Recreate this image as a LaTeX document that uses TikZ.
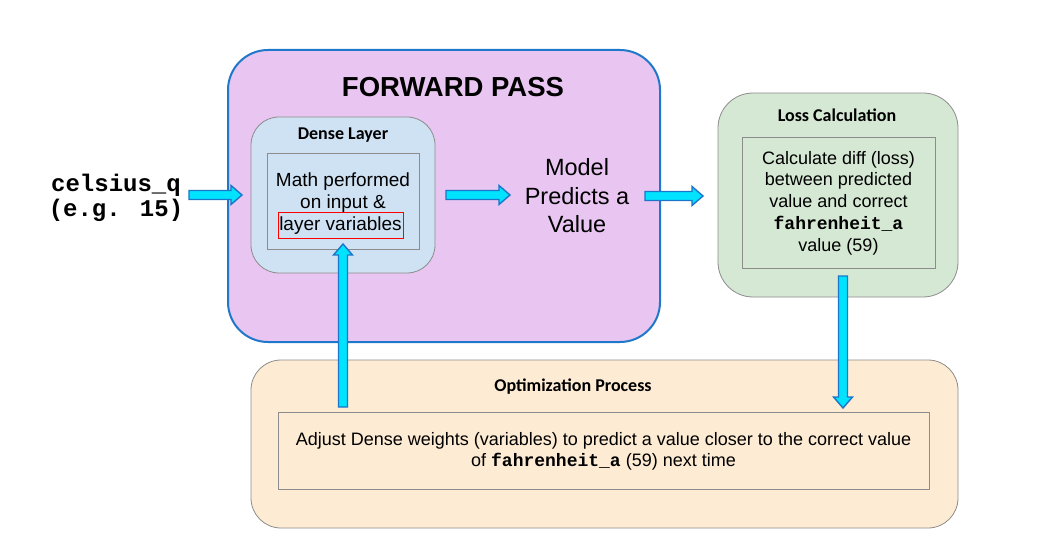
\documentclass[tikz,border=0pt]{standalone}
\usepackage{fontspec}
\setmainfont{Liberation Sans}
\newfontfamily\titlefont{Carlito}
\newfontfamily\codefont{Liberation Mono}
\usetikzlibrary{calc}
\definecolor{fpfill}{HTML}{E9C5F1}
\definecolor{fpline}{HTML}{1F78C9}
\definecolor{densefill}{HTML}{CFE2F3}
\definecolor{lossfill}{HTML}{D5E8D4}
\definecolor{optfill}{HTML}{FDEBD3}
\definecolor{boxline}{HTML}{8C8C8C}
\definecolor{arrfill}{HTML}{00E3FF}
\definecolor{arrline}{HTML}{1B75C9}
\newcommand\code[1]{{\codefont\bfseries #1}}
\newcommand\blockarrow[2]{%
  \coordinate (bah) at ($(#2)!11pt!(#1)$);
  \draw[barrow] ($(#1)!4.5pt!90:(#2)$) -- ($(bah)!4.5pt!90:(#2)$) -- ($(bah)!9.5pt!90:(#2)$) -- (#2)
    -- ($(bah)!9.5pt!-90:(#2)$) -- ($(bah)!4.5pt!-90:(#2)$) -- ($(#1)!4.5pt!-90:(#2)$) -- cycle;}
\tikzset{
  lbox/.style={draw=boxline, line width=0.8pt, inner sep=0pt},
  inbox/.style={draw=boxline, line width=0.8pt, inner sep=0pt},
  subtitle/.style={font=\titlefont\bfseries\fontsize{18}{20}\selectfont, inner sep=0pt},
  txt/.style={font=\fontsize{18}{21.7}\selectfont, align=center, inner sep=0pt},
  barrow/.style={draw=arrline, fill=arrfill, line width=1.4pt, line join=miter},
}
\begin{document}
\begin{tikzpicture}[x=1pt,y=-1pt]
\useasboundingbox (0,0) rectangle (1047,548);
% forward pass
\node[draw=fpline, fill=fpfill, line width=2pt, rounded corners=40pt, minimum width=432pt, minimum height=292pt, inner sep=0pt] (fp) at (444,196) {};
\node[font=\bfseries\fontsize{27.5}{30}\selectfont, inner sep=0pt] (fptitle) at (453,87) {FORWARD PASS};
% dense layer
\node[lbox, fill=densefill, rounded corners=28pt, minimum width=184pt, minimum height=156pt] (dense) at (343,195) {};
\node[subtitle] (densettl) at (343,135) {Dense Layer};
\node[inbox, minimum width=152pt, minimum height=96pt] (densein) at (343,201) {};
\node[txt, font=\fontsize{19}{22.5}\selectfont] (math) at (343,192.5) {Math performed\\on input \&};
\node[draw=red, line width=1pt, minimum width=125pt, minimum height=26pt, inner sep=0pt, font=\fontsize{19}{22}\selectfont] (layervars) at (340.5,226) {layer variables};
% model
\node[txt, font=\fontsize{23.5}{28.5}\selectfont] (model) at (577,196) {Model\\Predicts a\\Value};
% loss
\node[lbox, fill=lossfill, rounded corners=35pt, minimum width=240pt, minimum height=204pt] (loss) at (838,195) {};
\node[subtitle] (lossttl) at (837,115) {Loss Calculation};
\node[inbox, minimum width=193pt, minimum height=131pt] (lossin) at (838.5,202.5) {};
\node[txt] (losstxt) at (838.5,203) {Calculate diff (loss)\\between predicted\\value and correct\\\code{fahrenheit\_a}\\value (59)};
% optimization
\node[lbox, fill=optfill, rounded corners=30pt, minimum width=707pt, minimum height=168pt] (opt) at (604.5,444) {};
\node[subtitle] (optttl) at (573,387) {Optimization Process};
\node[inbox, minimum width=651pt, minimum height=77pt] (optin) at (603.5,450.5) {};
\node[txt, font=\fontsize{18}{21}\selectfont] (opttxt) at (603.5,451) {Adjust Dense weights (variables) to predict a value closer to the correct value\\of \code{fahrenheit\_a} (59) next time};
% input
\node[txt, font=\codefont\bfseries\fontsize{24}{25}\selectfont] (cel) at (116,197.5) {celsius\_q\\(e.g. 15)};
% arrows
\coordinate (a1t) at (189,195); \coordinate (a1h) at (242,195);
\coordinate (a2t) at (446,195); \coordinate (a2h) at (510,195);
\coordinate (a3t) at (645,196); \coordinate (a3h) at (703,196);
\coordinate (a4t) at (843,276); \coordinate (a4h) at (843,408);
\coordinate (a5t) at (343,407); \coordinate (a5h) at (343,244);
\blockarrow{a1t}{a1h}
\blockarrow{a2t}{a2h}
\blockarrow{a3t}{a3h}
\blockarrow{a4t}{a4h}
\blockarrow{a5t}{a5h}
\end{tikzpicture}
\end{document}
